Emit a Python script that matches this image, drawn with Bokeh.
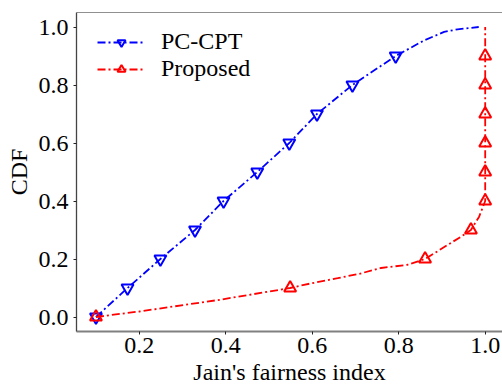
from bokeh.plotting import figure
from bokeh.models import (Range1d, FixedTicker, PrintfTickFormatter,
                          Legend, LegendItem, Span)
from bokeh.embed import file_html
from bokeh.resources import INLINE

# ---- data ----
pc_x = [0.100, 0.173, 0.249, 0.329, 0.395, 0.473, 0.547, 0.611, 0.693, 0.793,
        0.859, 0.905, 0.936, 0.985]
pc_y = [0.00, 0.10, 0.20, 0.30, 0.40, 0.50, 0.60, 0.70, 0.80, 0.90,
        0.954, 0.983, 0.992, 1.00]
pc_marks = [0, 1, 2, 3, 4, 5, 6, 7, 8, 9]

pr_x = [0.100, 0.200, 0.389, 0.549, 0.581, 0.659, 0.709, 0.759, 0.820, 0.861,
        0.944, 0.967, 0.986, 1.000, 1.000, 1.000, 1.000, 1.000, 1.000, 1.000]
pr_y = [0.000, 0.019, 0.060, 0.100, 0.111, 0.134, 0.149, 0.169, 0.180, 0.200,
        0.277, 0.300, 0.346, 0.400, 0.500, 0.600, 0.700, 0.800, 0.900, 1.000]
pr_marks = [0, 3, 9, 11, 13, 14, 15, 16, 17, 18]

x_ticks = [0.2, 0.4, 0.6, 0.8, 1.0]
y_ticks = [0.0, 0.2, 0.4, 0.6, 0.8, 1.0]
series_names = ["PC-CPT", "Proposed"]
x_label = "Jain's fairness index"
y_label = "CDF"

FONT = "Liberation Serif"

p = figure(width=502, height=387, output_backend="svg", toolbar_location=None,
           x_range=Range1d(0.055, 1.040), y_range=Range1d(-0.05, 1.05),
           min_border_left=76, min_border_right=0, min_border_top=12,
           min_border_bottom=55)
p.grid.visible = False
p.outline_line_color = None
p.background_fill_color = "white"
p.border_fill_color = "white"

for ax, tk in ((p.xaxis, x_ticks), (p.yaxis, y_ticks)):
    ax.ticker = FixedTicker(ticks=tk)
    ax.formatter = PrintfTickFormatter(format="%.1f")
    ax.major_tick_out = 3
    ax.major_tick_in = 0
    ax.minor_tick_out = 0
    ax.minor_tick_in = 0
    ax.major_tick_line_color = "#222222"
    ax.major_label_text_font = FONT
    ax.major_label_text_font_size = "24px"
    ax.major_label_text_color = "black"
    ax.major_label_text_line_height = 1.0
    ax.axis_label_text_font = FONT
    ax.axis_label_text_font_size = "24px"
    ax.axis_label_text_font_style = "normal"
    ax.axis_label_text_color = "black"
    ax.axis_label_text_line_height = 1.0

p.xaxis.axis_label = x_label
p.yaxis.axis_label = y_label
p.xaxis.axis_line_color = "#808080"
p.xaxis.axis_line_width = 2
p.xaxis.major_label_standoff = 3
p.xaxis.axis_label_standoff = 3
p.yaxis.axis_line_color = "#444444"
p.yaxis.axis_line_width = 1.3
p.yaxis.major_label_standoff = 5
p.yaxis.axis_label_standoff = 4

# top spine
p.add_layout(Span(location=p.y_range.end, dimension="width",
                  line_color="#222222", line_width=1.2))

DASH = "8 3 2 3"
l1 = p.line(pc_x, pc_y, line_color="#0000ff", line_width=1.8, line_dash=DASH)
s1 = p.scatter([pc_x[i] for i in pc_marks], [pc_y[i] for i in pc_marks],
               marker="inverted_triangle", size=12, line_color="#0000ff",
               line_width=2, fill_color=None)
l2 = p.line(pr_x, pr_y, line_color="#ff0000", line_width=1.8, line_dash=DASH)
s2 = p.scatter([pr_x[i] for i in pr_marks], [pr_y[i] for i in pr_marks],
               marker="triangle", size=12, line_color="#ff0000",
               line_width=2, fill_color=None)

legend = Legend(items=[LegendItem(label=series_names[0], renderers=[l1, s1]),
                       LegendItem(label=series_names[1], renderers=[l2, s2])],
                location=(21, 249), padding=0, margin=0, spacing=0,
                glyph_width=48, glyph_height=20, label_height=26,
                label_standoff=16, label_text_font=FONT,
                label_text_font_size="24px", label_text_color="black",
                border_line_color=None, background_fill_alpha=0)
p.add_layout(legend)

open("out.html", "w").write(file_html(p, INLINE))
